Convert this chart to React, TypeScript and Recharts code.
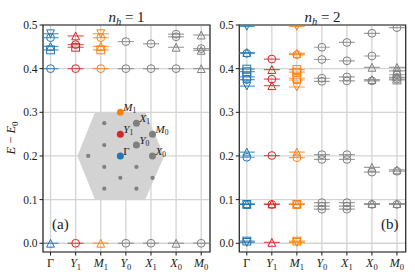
import React from 'react';
import { ScatterChart, Scatter, XAxis, YAxis, CartesianGrid, ReferenceArea } from 'recharts';

// ---------- data ----------
const categories = ['Γ', 'Y1', 'M1', 'Y0', 'X1', 'X0', 'M0'];
const categoryColors = ['#1f77b4', '#d62728', '#ff7f0e', '#7f7f7f', '#7f7f7f', '#7f7f7f', '#7f7f7f'];
const xTicks = [0, 1, 2, 3, 4, 5, 6];
const yTicks = [0, 0.1, 0.2, 0.3, 0.4, 0.5];
const panelTitles = ['1', '2'];

type Lv = [number, string]; // [energy, marker]

// n_h = 1
const nh1Gamma: Lv[] = [[0.0, '^'], [0.4, 'o'], [0.443, 's'], [0.451, '^'], [0.471, 'o'], [0.48, 'v']];
const nh1Y1: Lv[] = [[0.0, 'o'], [0.4, 'o'], [0.449, 's'], [0.455, 'o'], [0.475, '^']];
const nh1M1: Lv[] = [[0.0, '^'], [0.4, 'o'], [0.443, 's'], [0.451, '^'], [0.471, 'o'], [0.48, 'v']];
const nh1Y0: Lv[] = [[0.0, 'o'], [0.4, 'o'], [0.462, 'o']];
const nh1X1: Lv[] = [[0.0, 'o'], [0.4, 'o'], [0.457, 'o']];
const nh1X0: Lv[] = [[0.0, '^'], [0.4, 'o'], [0.449, '^'], [0.473, 'o'], [0.479, 'o']];
const nh1M0: Lv[] = [[0.0, 'o'], [0.4, '^'], [0.442, '^'], [0.446, 'o'], [0.477, '^']];

// n_h = 2
const nh2Gamma: Lv[] = [[0.002, 'v'], [0.005, 's'], [0.089, 's'], [0.089, 'o'], [0.09, '^'], [0.197, 'o'], [0.209, '^'], [0.36, 'v'], [0.375, 'o'], [0.381, 's'], [0.393, 's'], [0.399, 's'], [0.435, 'o'], [0.437, '^'], [0.497, 'v']];
const nh2Y1: Lv[] = [[0.002, '^'], [0.089, 'o'], [0.09, '^'], [0.201, 'o'], [0.361, '^'], [0.376, 'o'], [0.398, '^'], [0.422, 'o']];
const nh2M1: Lv[] = [[0.002, 'v'], [0.005, 's'], [0.089, 's'], [0.089, 'o'], [0.09, '^'], [0.196, 'o'], [0.209, '^'], [0.358, 'v'], [0.374, 'o'], [0.378, 's'], [0.392, 's'], [0.398, 's'], [0.432, 'o'], [0.435, '^'], [0.497, 'v']];
const nh2Y0: Lv[] = [[0.078, 'o'], [0.085, 'o'], [0.093, 'o'], [0.192, 'o'], [0.203, 'o'], [0.371, 'o'], [0.378, 'o'], [0.421, 'o'], [0.449, 'o']];
const nh2X1: Lv[] = [[0.078, 'o'], [0.085, 'o'], [0.093, 'o'], [0.192, 'o'], [0.203, 'o'], [0.372, 'o'], [0.381, 'o'], [0.418, 'o'], [0.46, 'o']];
const nh2X0: Lv[] = [[0.089, 'o'], [0.091, '^'], [0.163, 'o'], [0.174, '^'], [0.372, 'o'], [0.375, '^'], [0.403, '^'], [0.429, 'o'], [0.481, 'o']];
const nh2M0: Lv[] = [[0.089, 'o'], [0.091, '^'], [0.165, 'o'], [0.168, '^'], [0.374, 's'], [0.376, 'o'], [0.38, 'o'], [0.386, 'o'], [0.395, '^'], [0.403, '^'], [0.494, 'o']];

const nh1Levels = [nh1Gamma, nh1Y1, nh1M1, nh1Y0, nh1X1, nh1X0, nh1M0];
const nh2Levels = [nh2Gamma, nh2Y1, nh2M1, nh2Y0, nh2X1, nh2X0, nh2M0];

// inset (Brillouin-zone sketch) in panel (a) data coordinates
const hexX = [1.07, 1.77, 3.77, 4.53, 3.77, 1.77, 1.07];
const hexY = [0.2, 0.3, 0.3, 0.2, 0.1, 0.1, 0.2];
const latticeX = [2.14, 2.14, 1.5, 2.14, 2.78, 2.14, 3.42, 3.42, 4.06];
const latticeY = [0.275, 0.225, 0.2, 0.175, 0.15, 0.125, 0.175, 0.125, 0.15];
const kLabels = ['M1', 'X1', 'Y1', 'M0', 'Y0', 'Γ', 'X0'];
const kX = [2.78, 3.42, 2.78, 4.06, 3.42, 2.78, 4.06];
const kY = [0.3, 0.275, 0.25, 0.25, 0.225, 0.2, 0.2];
const kColors = ['#ff7f0e', '#7f7f7f', '#d62728', '#7f7f7f', '#7f7f7f', '#1f77b4', '#7f7f7f'];

// ---------- build tables ----------
const buildPoints = (levels: Lv[][]) =>
  levels.flatMap((arr, i) => arr.map(([e, m]) => ({ x: i, y: e, m, c: categoryColors[i] })));
const nh1Points = buildPoints(nh1Levels);
const nh2Points = buildPoints(nh2Levels);
const hexData = hexX.map((x, i) => ({ x, y: hexY[i] }));
const latticeData = latticeX.map((x, i) => ({ x, y: latticeY[i] }));
const kData = kLabels.map((l, i) => ({ x: kX[i], y: kY[i], l, c: kColors[i] }));

// ---------- styling ----------
const SERIF = "'Liberation Serif', 'DejaVu Serif', serif";
const INK = '#1a1a1a';
const R = 3.9;

const Marker = (props: any) => {
  const { cx, cy, payload } = props;
  if (cx == null || cy == null) return <g />;
  const c = payload.c;
  const m = payload.m;
  let glyph;
  if (m === 'o') glyph = <circle cx={cx} cy={cy} r={R} />;
  else if (m === '^') glyph = <polygon points={`${cx},${cy - R} ${cx - R},${cy + R} ${cx + R},${cy + R}`} />;
  else if (m === 'v') glyph = <polygon points={`${cx},${cy + R} ${cx - R},${cy - R} ${cx + R},${cy - R}`} />;
  else glyph = <rect x={cx - R} y={cy - R} width={2 * R} height={2 * R} />;
  return (
    <g fill="none" stroke={c} strokeWidth={1}>
      <line x1={cx - 8} x2={cx + 8} y1={cy} y2={cy} strokeOpacity={0.75} strokeWidth={1.2} />
      {glyph}
    </g>
  );
};

const LatticeDot = (props: any) => {
  const { cx, cy } = props;
  if (cx == null) return <g />;
  return <circle cx={cx} cy={cy} r={2.1} fill="#808080" />;
};

const KDot = (props: any) => {
  const { cx, cy, payload } = props;
  if (cx == null) return <g />;
  const l: string = payload.l;
  return (
    <g>
      <circle cx={cx} cy={cy} r={3.5} fill={payload.c} />
      <text x={cx + 3} y={cy - 1} fontFamily={SERIF} fontSize={11} fill={INK} fontStyle={l[0] === 'Γ' ? 'normal' : 'italic'}>
        {l[0]}
        {l.length > 1 && (
          <tspan fontSize={7.5} dy={2} fontStyle="normal">{l.slice(1)}</tspan>
        )}
      </text>
    </g>
  );
};

const XTick = (props: any) => {
  const { x, y, payload } = props;
  const label = categories[payload.value] || '';
  return (
    <text x={x} y={y + 9.5} textAnchor="middle" fontFamily={SERIF} fontSize={12} fill={INK}
      fontStyle={label[0] === 'Γ' ? 'normal' : 'italic'}>
      {label[0]}
      {label.length > 1 && <tspan fontSize={8.5} dy={2.5} fontStyle="normal">{label.slice(1)}</tspan>}
    </text>
  );
};

const YTick = (props: any) => {
  const { x, y, payload } = props;
  return (
    <text x={x} y={y + 4} textAnchor="end" fontFamily={SERIF} fontSize={11.5} fill={INK}>
      {Number(payload.value).toFixed(1)}
    </text>
  );
};

const Panel = ({ data, left, right, inset }: { data: any[]; left: number; right: number; inset?: boolean }) => (
  <div style={{ position: 'absolute', left: 0, top: 0 }}>
    <ScatterChart width={415} height={277} margin={{ top: 25, bottom: 5, left: left - 30, right: 415 - right }}>
      <CartesianGrid stroke="#d4d4d4" strokeWidth={1.3} />
      <XAxis type="number" dataKey="x" domain={[-0.3, 6.35]} ticks={xTicks} interval={0} allowDataOverflow
        height={20} axisLine={false} tickSize={3.5} tickLine={{ stroke: INK }} tick={<XTick />} />
      <YAxis type="number" dataKey="y" domain={[-0.02, 0.5]} ticks={yTicks} interval={0} allowDataOverflow
        width={30} axisLine={false} tickSize={3.5} tickLine={{ stroke: INK }} tick={<YTick />} />
      {inset && (
        <Scatter data={hexData} isAnimationActive={false} fill="#d3d3d3" line={{ fill: '#d3d3d3', stroke: 'none' }}
          lineType="joint" shape={() => <g />} />
      )}
      {inset && <Scatter data={latticeData} isAnimationActive={false} shape={<LatticeDot />} />}
      {inset && <Scatter data={kData} isAnimationActive={false} shape={<KDot />} />}
      <Scatter data={data} isAnimationActive={false} shape={<Marker />} />
      <ReferenceArea x1={-0.3} x2={6.35} y1={-0.02} y2={0.5} fill="none" fillOpacity={0} stroke="#262626" strokeWidth={1.2} strokeOpacity={1} />
    </ScatterChart>
  </div>
);

const Title = ({ cx, n }: { cx: number; n: string }) => (
  <text x={cx} y={21.5} textAnchor="middle" fontFamily={SERIF} fontSize={15} fill={INK}>
    <tspan fontStyle="italic">n</tspan>
    <tspan fontStyle="italic" fontSize={10.5} dy={3}>h</tspan>
    <tspan dy={-3}>{` = ${n}`}</tspan>
  </text>
);

export default function App() {
  return (
    <div style={{ position: 'absolute', left: 0, top: 0, width: 415, height: 277, background: '#fff' }}>
      <Panel data={nh1Points} left={43} right={210} inset />
      <Panel data={nh2Points} left={239.3} right={405.7} />
      <svg width={415} height={277} style={{ position: 'absolute', left: 0, top: 0, pointerEvents: 'none' }}>
        <Title cx={126.5} n={panelTitles[0]} />
        <Title cx={322.5} n={panelTitles[1]} />
        <text transform="translate(15,138) rotate(-90)" textAnchor="middle" fontFamily={SERIF} fontSize={12.5} fill={INK}>
          <tspan fontStyle="italic">E</tspan>
          <tspan>{' − '}</tspan>
          <tspan fontStyle="italic">E</tspan>
          <tspan fontSize={9} dy={2.5}>0</tspan>
        </text>
        <text x={52} y={229} fontFamily={SERIF} fontSize={15} fill={INK}>(a)</text>
        <text x={381} y={229} fontFamily={SERIF} fontSize={15} fill={INK}>(b)</text>
      </svg>
    </div>
  );
}
